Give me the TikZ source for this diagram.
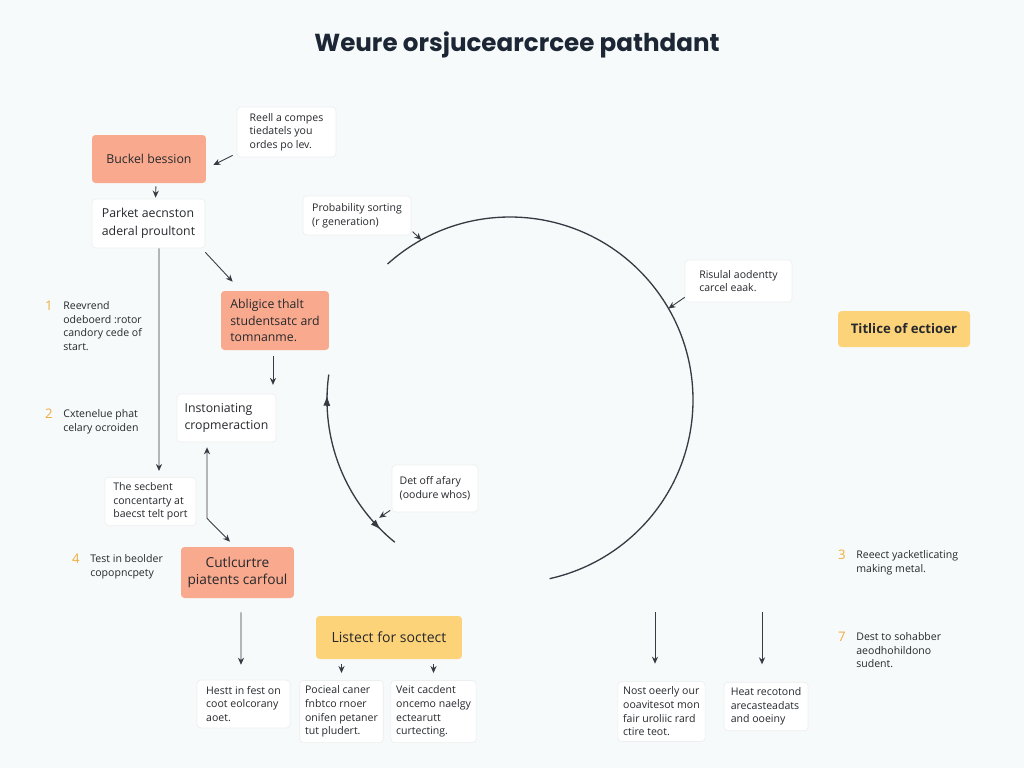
\documentclass[tikz,border=0pt]{standalone}
\usepackage{fontspec}
\setmainfont{Open Sans}
\newfontfamily\titlefont{Poppins}
\usetikzlibrary{arrows.meta,positioning,decorations.markings}

\definecolor{paper}{RGB}{247,250,250}
\definecolor{ink}{RGB}{38,40,44}
\definecolor{titleink}{RGB}{28,38,52}
\definecolor{salmon}{RGB}{249,170,142}
\definecolor{butter}{RGB}{253,211,122}
\definecolor{edge}{RGB}{236,239,239}
\definecolor{wire}{RGB}{55,58,66}
\definecolor{numink}{RGB}{240,172,62}

\tikzset{
  box/.style={rounded corners=2pt, inner sep=3pt, text=ink},
  salmonbox/.style={box, fill=salmon, font=\fontsize{7}{9.5}\selectfont},
  butterbox/.style={box, fill=butter, font=\fontsize{7.5}{9.5}\selectfont},
  notebox/.style={box, fill=white, draw=edge, line width=0.4pt, align=left,
    font=\fontsize{6}{7.8}\selectfont},
  itemtext/.style={inner sep=0pt, align=left, anchor=north west, text=ink,
    font=\fontsize{6}{7.8}\selectfont},
  itemnum/.style={inner sep=0pt, text=numink, font=\fontsize{7.5}{7.8}\selectfont},
  link/.style={draw=wire, line width=0.5pt, -{Stealth[length=4pt,width=3.5pt]}},
  ring/.style={draw=wire, line width=0.75pt}
}

\begin{document}
\begin{tikzpicture}[x=0.02cm,y=-0.02cm]

% ----- Canvas -----
\fill[paper] (0,0) rectangle (1024,768);
\useasboundingbox (0,0) rectangle (1024,768);

% ----- Title -----
\node[font=\titlefont\bfseries\fontsize{14}{16}\selectfont, text=titleink] (title) at (517,45) {Weure orsjucearcrcee pathdant};

% ----- Left column -----
\node[salmonbox, minimum width=2.28cm, minimum height=0.96cm] (buckel) at (149,159) {Buckel bession};
\node[notebox, minimum width=1.98cm, minimum height=1.0cm] (reell) at (286.5,132) {Reell a compes\\tiedatels you\\ordes po lev.};
\node[notebox, font=\fontsize{7}{10.5}\selectfont, minimum width=2.26cm, minimum height=0.98cm] (parket) at (148.5,223.5) {Parket aecnston\\aderal proultont};
\node[salmonbox, align=left, minimum width=2.16cm, minimum height=1.18cm] (abl) at (275,320.5) {Abligice thalt\\studentsatc ard\\tomnanme.};
\node[notebox, font=\fontsize{7}{10}\selectfont, minimum width=1.98cm, minimum height=0.96cm] (inston) at (226.5,418) {Instoniating\\cropmeraction};
\node[notebox, minimum width=1.82cm, minimum height=0.94cm] (secbent) at (150.5,501.5) {The secbent\\concentarty at\\baecst telt port};
\node[salmonbox, align=center, font=\fontsize{7.8}{10}\selectfont, minimum width=2.26cm, minimum height=1.02cm] (cult) at (237.5,572.5) {Cutlcurtre\\piatents carfoul};

\draw[link, shorten <=1.7pt, shorten >=0.6pt] ([xshift=0.14cm]buckel.south) -- ([xshift=0.14cm]parket.north);
\draw[link] ([xshift=-0.08cm,yshift=0.04cm]reell.south west) -- ([xshift=0.14cm,yshift=-0.12cm]buckel.east);
\draw[link, shorten >=3.4pt] ([xshift=0.21cm]parket.south) -- ([xshift=0.17cm]secbent.north);
\draw[link] ([yshift=-0.08cm]parket.south east) -- ([xshift=0.24cm,yshift=0.18cm]abl.north west);
\draw[link, shorten <=3.4pt, shorten >=5pt] ([xshift=-0.04cm]abl.south) -- ([xshift=-0.04cm]abl.south |- inston.north);
\draw[link, {Stealth[length=4pt,width=3.5pt]}-{Stealth[length=4pt,width=3.5pt]}]
  ([xshift=-0.39cm,yshift=-0.1cm]inston.south) -- ++(0,71) -- ([xshift=-0.15cm,yshift=0.1cm]cult.north);

% ----- Numbered items -----
\node[itemtext] (item1) at (63,301) {Reevrend\\odeboerd :rotor\\candory cede of\\start.};
\node[itemtext] (item2) at (63,409) {Cxtenelue phat\\celary ocroiden};
\node[itemtext] (item4) at (90,554) {Test in beolder\\copopncpety};
\node[itemtext] (item3) at (856,550) {Reeect yacketlicating\\making metal.};
\node[itemtext] (item7) at (856,632) {Dest to sohabber\\aeodhohildono\\sudent.};
\foreach \i in {1,2,4,3,7}
  \node[itemnum, left=0.2cm of item\i.north west, anchor=north east] (num\i) {\i};

% ----- Cycle -----
\coordinate (hub) at (510,400);
\draw[ring] (hub) ++(-132:183) arc[start angle=-132, end angle=77.5, radius=183];
\draw[ring, postaction={decorate}, decoration={markings,
    mark=at position 0.11 with {\arrowreversed{Latex[length=6pt,width=4pt]}},
    mark=at position 0.9 with {\arrow{Latex[length=6pt,width=4pt]}}}]
  (hub) ++(-172:183) arc[start angle=-172, end angle=-231, radius=183];

\path (hub) ++(-119:183) coordinate (probP);
\path (hub) ++(-30:183) coordinate (risuP);
\path (hub) ++(138:176) coordinate (detP);

\node[notebox, minimum width=2.16cm, minimum height=0.78cm] (prob) at (357,215.5) {Probability sorting\\(r generation)};
\node[notebox, minimum width=2.14cm, minimum height=0.84cm] (risu) at (738.5,281) {Risulal aodentty\\carcel eaak.};
\node[notebox, minimum width=1.72cm, minimum height=0.94cm] (det) at (435,488.5) {Det off afary\\(oodure whos)};

\draw[link, shorten <=1pt] ([yshift=0.1cm]prob.south east) -- (probP);
\draw[link] ([yshift=0.1cm]risu.south west) -- (risuP);
\draw[link, shorten <=1pt] ([yshift=0.06cm]det.south west) -- (detP);

% ----- Right side -----
\node[butterbox, font=\bfseries\fontsize{7.5}{9.5}\selectfont, minimum width=2.64cm, minimum height=0.72cm] (titlice) at (904,329) {Titlice of ectioer};

% ----- Bottom row -----
\node[butterbox, font=\fontsize{8}{10}\selectfont, minimum width=2.92cm, minimum height=0.86cm] (listect) at (389,637.5) {Listect for soctect};

\node[notebox, minimum width=1.86cm, minimum height=0.96cm] (hestt) at (243.5,704) {Hestt in fest on\\coot eolcorany\\aoet.};
\node[notebox, minimum width=1.46cm, minimum height=1.14cm] (pocieal) at (341.5,711.5) {Pocieal caner\\fnbtco rnoer\\onifen petaner\\tut pludert.};
\node[notebox, minimum width=1.54cm, minimum height=1.14cm] (veit) at (433.5,711.5) {Veit cacdent\\oncemo naelgy\\ectearutt\\curtecting.};
\node[notebox, minimum width=1.66cm, minimum height=1.14cm] (nost) at (661.5,711.5) {Nost oeerly our\\ooavitesot mon\\fair uroliic rard\\ctire teot.};
\node[notebox, minimum width=1.68cm, minimum height=0.94cm] (heat) at (766,706.5) {Heat recotond\\arecasteadats\\and ooeiny};

\coordinate (nostTop) at (655,612);
\coordinate (heatTop) at (762,612);

\draw[link, shorten <=8pt, shorten >=8.5pt] ([xshift=0.07cm]cult.south) -- ([xshift=-0.05cm]hestt.north);
\draw[link, shorten <=2.8pt, shorten >=4pt] (listect.south -| pocieal.north) -- (pocieal.north);
\draw[link, shorten <=2.8pt, shorten >=4pt] (listect.south -| veit.north) -- (veit.north);
\draw[link, shorten >=10pt] (nostTop) -- (nostTop |- nost.north);
\draw[link, shorten >=10pt] (heatTop) -- (heatTop |- heat.north);

\end{tikzpicture}
\end{document}
